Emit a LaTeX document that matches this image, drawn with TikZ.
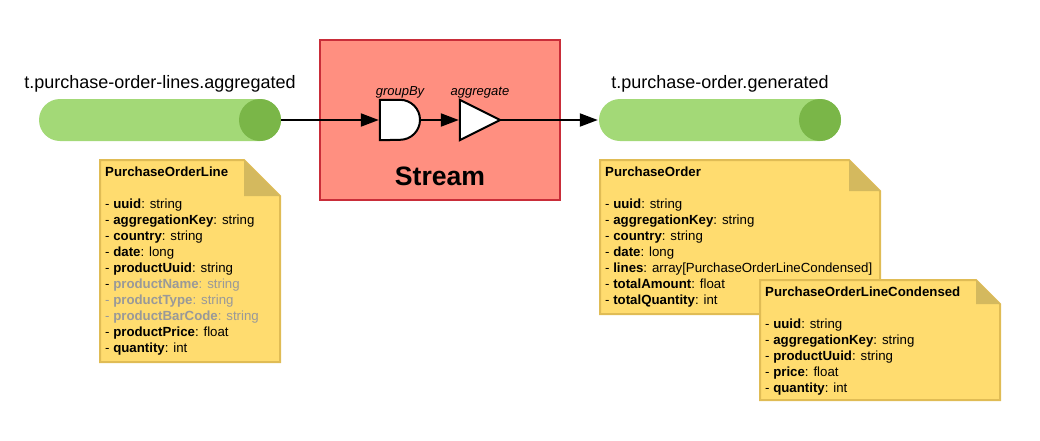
\documentclass[tikz,border=0pt]{standalone}
\usepackage{fontspec}
\setmainfont{Liberation Sans}
\usetikzlibrary{arrows.meta}

\definecolor{pipegreen}{HTML}{A3D977}
\definecolor{capgreen}{HTML}{7AB648}
\definecolor{streamred}{HTML}{FF8F80}
\definecolor{streamline}{HTML}{C92D39}
\definecolor{noteyellow}{HTML}{FFDC6F}
\definecolor{noteline}{HTML}{E0BC55}
\definecolor{notefold}{HTML}{D4B95E}
\definecolor{dropped}{HTML}{999999}

\begin{document}
\begin{tikzpicture}[
    x=1pt, y=-1pt,
    pipe/.style={fill=pipegreen, minimum width=242pt, minimum height=42pt,
        rounded corners=21pt, inner sep=0pt},
    pipecap/.style={circle, fill=capgreen, minimum size=42pt, inner sep=0pt},
    topic/.style={font=\fontsize{18}{22}\selectfont},
    gatebox/.style={minimum size=40pt, inner sep=0pt},
    gateline/.style={draw=black, fill=white, line width=2pt},
    oplabel/.style={font=\fontsize{13}{16}\selectfont\itshape},
    flow/.style={-{Triangle[length=18pt, width=13pt]}, line width=2pt, shorten >=1pt},
    notepaper/.style={fill=noteyellow, draw=noteline, line width=2pt},
    notecorner/.style={fill=notefold},
    notetext/.style={anchor=north west, inner sep=0pt, align=left,
        font=\fontsize{13.25}{16}\selectfont}
]

%% Zoznam: \f = tučný názov poľa
\def\f#1#2{- \textbf{#1}: #2}
\def\g#1#2{\textcolor{dropped}{\textbf{#1}: #2}}

\useasboundingbox (0,0) rectangle (1040,440);

%% Témy
\node[pipe] (linespipe) at (160,120) {};
\node[pipecap] (linescap) at (260,120) {};
\node[topic] (linestopic) at (160,83.5) {t.purchase-order-lines.aggregated};

\node[pipe] (orderpipe) at (720,120) {};
\node[pipecap] (ordercap) at (820,120) {};
\node[topic] (ordertopic) at (720,83.5) {t.purchase-order.generated};

%% Stream
\node[draw=streamline, fill=streamred, line width=2pt, minimum width=240pt,
    minimum height=160pt, inner sep=0pt] (stream) at (440,120) {};
\node[font=\fontsize{26.6}{32}\bfseries\selectfont] (streamlabel) at (440,176) {Stream};

\node[gatebox] (groupby) at (400,120) {};
\node[gatebox] (aggregate) at (480,120) {};

%% Spojnice
\draw[flow] (linescap.east) -- (groupby.west);
\draw[flow] (groupby.east) -- (aggregate.west);
\draw[flow] (aggregate.east) -- (orderpipe.west);

\draw[gateline] (groupby.north west) -- (groupby.north) arc[start angle=90, end angle=-90, radius=20pt]
    -- (groupby.south west) -- cycle;
\draw[gateline, line join=miter] (aggregate.north west) -- (aggregate.east) -- (aggregate.south west) -- cycle;
\node[oplabel] (groupbylabel) at (400,92.5) {groupBy};
\node[oplabel] (aggregatelabel) at (480,92.5) {aggregate};

%% Poznámky: x/y/šírka/výška/záhyb
\foreach \x/\y/\w/\h/\k in {100/160/180/202/36, 600/160/280/154/31, 760/280/240/120/24} {
    \draw[notepaper] (\x,\y) -- ++(\w-\k,0) -- ++(\k,\k) -- (\x+\w,\y+\h) -- (\x,\y+\h) -- cycle;
    \fill[notecorner] (\x+\w-\k,\y) -- ++(\k,\k) -- ++(-\k,0) -- cycle;

    %% Prvá poznámka
    \ifnum\x=100
        \node[notetext] (linenote) at (105,166.7) {\textbf{PurchaseOrderLine}\\[16pt]
            \f{uuid}{string}\\
            \f{aggregationKey}{string}\\
            \f{country}{string}\\
            \f{date}{long}\\
            \f{productUuid}{string}\\
            - \g{productName}{string}\\
            \textcolor{dropped}{- }\g{productType}{string}\\
            \textcolor{dropped}{- }\g{productBarCode}{string}\\
            \f{productPrice}{float}\\
            \f{quantity}{int}};
    \fi
    \ifnum\x=600
        \node[notetext] (ordernote) at (605,166.7) {\textbf{PurchaseOrder}\\[16pt]
            \f{uuid}{string}\\
            \f{aggregationKey}{string}\\
            \f{country}{string}\\
            \f{date}{long}\\
            \f{lines}{array[PurchaseOrderLineCondensed]}\\
            \f{totalAmount}{float}\\
            \f{totalQuantity}{int}};
    \fi
    \ifnum\x=760
        \node[notetext] (condensednote) at (765,286.7) {\textbf{PurchaseOrderLineCondensed}\\[16pt]
            \f{uuid}{string}\\
            \f{aggregationKey}{string}\\
            \f{productUuid}{string}\\
            \f{price}{float}\\
            \f{quantity}{int}};
    \fi
}

\end{tikzpicture}
\end{document}
